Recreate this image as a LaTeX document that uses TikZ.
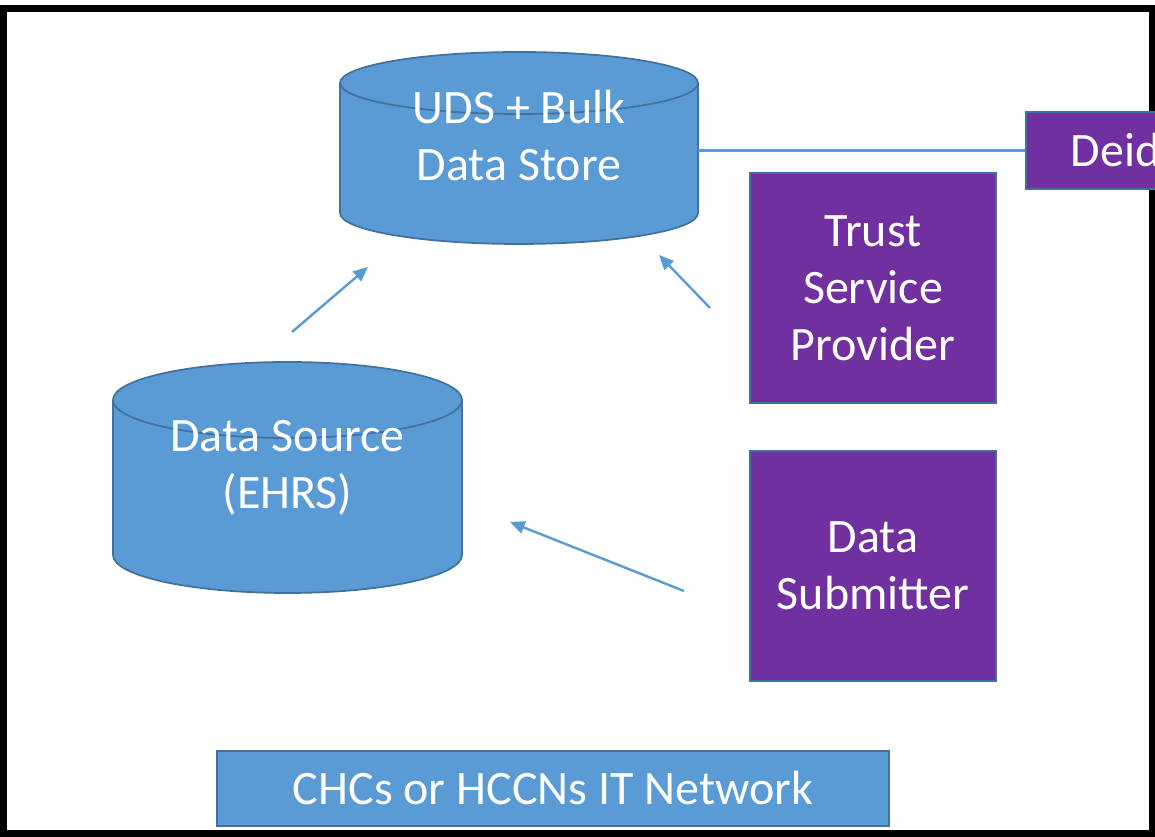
\documentclass[tikz,border=0pt]{standalone}
\usepackage{fontspec}
\setmainfont{Carlito}
\usetikzlibrary{arrows.meta}

\definecolor{drumblue}{HTML}{5B9BD5}
\definecolor{edgeblue}{HTML}{41719C}
\definecolor{rolepurple}{HTML}{7030A0}

% Cylinder: centre x, y of top ellipse centre, y of bottom ellipse centre, x radius, y radius
\newcommand\drumshape[5]{%
  \filldraw[drum] (#1-#4,#2) -- (#1-#4,#3) arc(180:360:#4 and #5)
    -- (#1+#4,#2) arc(0:180:#4 and #5) -- cycle;
  \draw[drum, fill=none] (#1-#4,#2) arc(180:360:#4 and #5);}

\tikzset{
  drum/.style={fill=drumblue, draw=edgeblue, line width=1.3pt},
  lbl/.style={text=white, font=\fontsize{36}{42.75}\selectfont, align=center, inner sep=0pt},
  rolebox/.style={lbl, fill=rolepurple, draw=edgeblue, line width=1.3pt,
    minimum width=246*0.75pt, minimum height=230*0.75pt},
  netbox/.style={lbl, fill=drumblue, draw=edgeblue, line width=1.3pt,
    minimum width=672*0.75pt, minimum height=75*0.75pt},
  deidbox/.style={lbl, fill=rolepurple, draw=edgeblue, line width=1.3pt,
    minimum height=77*0.75pt, inner xsep=45*0.75pt, anchor=west},
  flow/.style={draw=drumblue, line width=1.8pt, -{Triangle[length=11pt,width=9.5pt]}},
  link/.style={draw=drumblue, line width=1.6pt},
}

\begin{document}
\begin{tikzpicture}[x=0.75pt, y=0.75pt]
\useasboundingbox (0,0) rectangle (1155,837);
\clip (0,0) rectangle (1155,837);

% outer frame
\draw[line width=5.25pt, black] (3,3.5) rectangle (1152.5,828.5);

% data stores
\drumshape{519}{754}{624}{179}{31}
\node[lbl] (uds) at (519,701) {UDS + Bulk\\Data Store};
\coordinate (udsright) at (698,690);

\drumshape{287.5}{437}{282}{174.5}{38}
\node[lbl] (src) at (287.5,369) {Data Source\\(EHRS)};

% roles
\node[deidbox] (deid) at (1025,686.5) {Deid};
\node[rolebox] (trust) at (873,549) {Trust\\Service\\Provider};
\node[rolebox] (submit) at (873,271) {Data\\Submitter};
\node[netbox] (net) at (553,48.5) {CHCs or HCCNs IT Network};

% link to de-identification service
\draw[link] (deid.west -| udsright) -- (deid.west);

% data flow arrows
\coordinate (a1s) at (292,505);
\coordinate (a1e) at (368,570);
\coordinate (a2s) at (710,529);
\coordinate (a2e) at (659,582);
\coordinate (a3s) at (684,246);
\coordinate (a3e) at (510,315);
\draw[flow] (a1s) -- (a1e);
\draw[flow] (a2s) -- (a2e);
\draw[flow] (a3s) -- (a3e);
\end{tikzpicture}
\end{document}
